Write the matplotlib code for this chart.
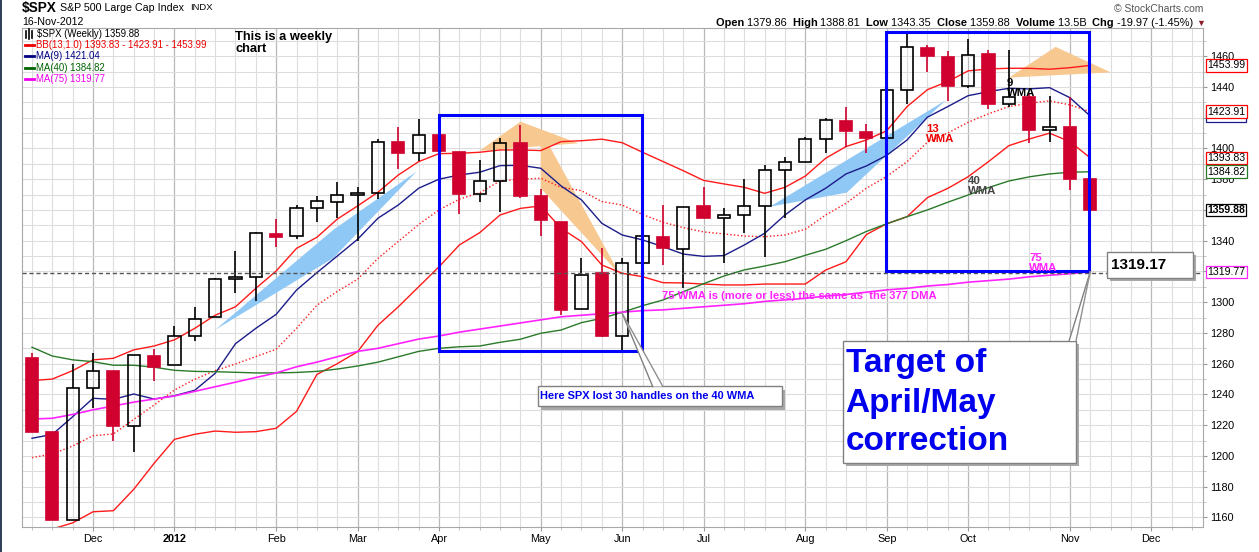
import numpy as np
import pandas as pd
import matplotlib
matplotlib.use("Agg")
import matplotlib.pyplot as plt
from matplotlib.patches import Rectangle, Polygon
from matplotlib.lines import Line2D
from matplotlib.transforms import blended_transform_factory

# weekly bars, first bar = week of 14-Nov-2011
first_week = "2011-11-14"

opens = [1263.85, 1215.62, 1158.67, 1244.33, 1255.05, 1219.74, 1265.02, 1258.86, 1277.83, 1290.22,
         1315.29, 1316.16, 1344.32, 1343.06, 1361.22, 1365.20, 1369.59, 1371.09, 1404.17, 1397.11,
         1408.47, 1397.45, 1370.27, 1378.53, 1403.26, 1368.79, 1351.93, 1295.73, 1318.90, 1278.29,
         1325.72, 1342.42, 1334.90, 1362.33, 1354.66, 1356.50, 1362.34, 1385.94, 1391.04, 1405.87,
         1417.93, 1410.44, 1406.54, 1437.92, 1465.42, 1459.76, 1440.90, 1461.40, 1428.75, 1433.21,
         1411.94, 1414.02, 1379.86]
highs = [1266.98, 1215.62, 1260.00, 1267.06, 1255.31, 1265.42, 1269.37, 1284.62, 1296.82, 1315.49,
         1333.47, 1345.34, 1354.32, 1363.40, 1368.92, 1378.04, 1374.76, 1405.88, 1414.00, 1419.15,
         1422.38, 1397.45, 1392.76, 1406.64, 1415.32, 1373.91, 1351.93, 1328.49, 1334.93, 1329.05,
         1343.32, 1363.46, 1362.17, 1374.81, 1361.54, 1380.39, 1389.19, 1394.16, 1407.14, 1420.04,
         1426.68, 1416.00, 1437.92, 1474.51, 1467.07, 1463.24, 1470.96, 1464.02, 1464.02, 1435.46,
         1434.00, 1433.38, 1388.81]
lows = [1215.42, 1158.66, 1158.67, 1231.47, 1209.47, 1202.37, 1248.64, 1258.86, 1274.55, 1290.22,
        1306.06, 1300.49, 1335.92, 1340.80, 1352.28, 1354.92, 1340.03, 1367.00, 1386.87, 1391.56,
        1397.83, 1357.38, 1365.38, 1358.79, 1367.96, 1343.13, 1291.98, 1295.73, 1277.25, 1266.74,
        1306.62, 1324.41, 1309.27, 1354.58, 1325.41, 1345.07, 1329.24, 1354.65, 1391.04, 1397.32,
        1401.00, 1397.01, 1396.56, 1429.13, 1449.98, 1430.53, 1439.01, 1425.53, 1426.69, 1403.28,
        1404.00, 1373.03, 1343.35]
closes = [1215.65, 1158.67, 1244.28, 1255.19, 1219.66, 1265.33, 1257.60, 1277.81, 1289.09, 1315.38,
          1316.33, 1344.90, 1342.64, 1361.23, 1365.74, 1369.63, 1370.87, 1404.17, 1397.11, 1408.47,
          1398.08, 1370.26, 1378.53, 1403.36, 1369.10, 1353.39, 1295.22, 1317.82, 1278.04, 1325.66,
          1342.84, 1335.02, 1362.16, 1354.68, 1356.78, 1362.66, 1385.97, 1390.99, 1405.87, 1418.16,
          1411.13, 1406.58, 1437.92, 1465.77, 1460.15, 1440.67, 1460.93, 1428.59, 1433.19, 1411.94,
          1414.20, 1379.85, 1359.88]

bb_upper = [1249.0, 1250.0, 1255.5, 1262.5, 1263.5, 1269.0, 1271.5, 1275.5, 1283.0, 1291.5,
            1297.0, 1309.0, 1320.3, 1335.0, 1342.2, 1354.0, 1362.6, 1371.5, 1382.7, 1391.4,
            1396.6, 1396.8, 1397.5, 1399.0, 1399.0, 1398.6, 1404.4, 1405.0, 1406.0, 1403.7,
            1397.5, 1391.5, 1385.5, 1379.2, 1376.9, 1374.7, 1370.8, 1374.7, 1382.0, 1393.6,
            1401.2, 1405.5, 1411.5, 1427.2, 1438.2, 1443.5, 1450.4, 1451.7, 1452.1, 1452.1,
            1451.5, 1452.5, 1453.99]
bb_mid = [1198.9, 1201.3, 1206.5, 1213.2, 1214.3, 1223.8, 1233.1, 1242.9, 1249.9, 1255.5,
          1259.8, 1264.6, 1269.4, 1283.0, 1298.0, 1307.0, 1314.9, 1328.5, 1339.5, 1350.5,
          1360.0, 1367.0, 1371.2, 1378.8, 1379.9, 1380.6, 1374.7, 1372.5, 1365.4, 1363.2,
          1357.0, 1352.0, 1348.5, 1345.7, 1344.4, 1343.0, 1342.6, 1343.7, 1347.4, 1356.7,
          1364.3, 1374.1, 1381.8, 1391.4, 1404.0, 1410.0, 1417.0, 1422.5, 1427.2, 1429.4,
          1430.9, 1428.3, 1423.91]
bb_lower = [1149.0, 1152.5, 1156.5, 1163.7, 1164.4, 1178.3, 1195.2, 1210.8, 1214.1, 1216.2,
            1215.4, 1215.8, 1218.0, 1229.0, 1253.0, 1260.0, 1267.8, 1285.0, 1297.0, 1310.0,
            1323.0, 1337.2, 1345.2, 1356.7, 1361.0, 1362.6, 1348.0, 1339.4, 1324.2, 1318.8,
            1316.6, 1312.7, 1312.5, 1311.8, 1311.2, 1311.2, 1311.8, 1311.8, 1311.8, 1320.9,
            1326.3, 1344.0, 1351.0, 1355.6, 1368.0, 1374.0, 1381.6, 1391.4, 1401.8, 1406.1,
            1409.9, 1404.4, 1393.83]
ma9 = [1211.5, 1214.0, 1225.5, 1237.5, 1236.8, 1240.3, 1237.0, 1239.2, 1242.7, 1253.7,
       1273.0, 1283.0, 1292.1, 1307.9, 1319.2, 1330.0, 1340.9, 1354.6, 1363.2, 1374.1,
       1380.0, 1382.7, 1384.5, 1388.8, 1389.0, 1387.1, 1375.6, 1366.5, 1351.3, 1343.7,
       1340.5, 1336.1, 1331.3, 1329.8, 1330.3, 1337.2, 1344.8, 1356.7, 1366.5, 1374.1,
       1383.4, 1388.6, 1395.5, 1405.5, 1420.3, 1427.2, 1434.3, 1436.9, 1439.1, 1438.7,
       1439.5, 1433.0, 1421.04]
ma40 = [1270.7, 1265.0, 1262.5, 1261.3, 1259.0, 1259.0, 1257.7, 1255.7, 1255.0, 1254.8,
        1254.4, 1254.0, 1254.0, 1254.3, 1255.0, 1256.5, 1258.5, 1261.0, 1264.5, 1268.0,
        1270.0, 1271.0, 1271.5, 1273.9, 1275.9, 1279.8, 1281.9, 1286.7, 1289.5, 1293.4,
        1297.7, 1301.4, 1306.8, 1312.0, 1317.0, 1321.0, 1323.5, 1326.3, 1330.5, 1334.4,
        1340.0, 1346.0, 1351.0, 1355.6, 1360.0, 1365.0, 1369.7, 1374.5, 1378.8, 1381.5,
        1383.4, 1384.5, 1384.82]
ma75 = [1224.0, 1224.5, 1227.0, 1230.0, 1232.5, 1235.0, 1237.0, 1239.0, 1242.0, 1245.0,
        1248.0, 1251.0, 1254.0, 1258.0, 1261.0, 1264.5, 1268.0, 1270.0, 1273.0, 1276.0,
        1278.0, 1280.5, 1282.5, 1284.5, 1286.5, 1288.5, 1290.5, 1291.5, 1292.5, 1293.5,
        1294.5, 1295.0, 1296.0, 1297.0, 1298.0, 1299.0, 1300.5, 1301.5, 1302.5, 1304.0,
        1305.0, 1306.5, 1308.0, 1309.0, 1310.5, 1311.5, 1313.0, 1314.0, 1315.0, 1316.5,
        1317.5, 1318.5, 1319.77]

target_level = 1319.17

W, H = 1259, 552
RED_CANDLE = "#d0002f"
NAVY = "#1c1c8a"
GREEN = "#2a7a2a"
MAGENTA = "#ff22ff"
BBRED = "#ff1a1a"


def runs(fig, x, y, parts, right=False):
    # draw a row of text pieces next to each other (pixel coords)
    r = fig.canvas.get_renderer()
    items = []
    for txt, kw in parts:
        t = fig.text(0, 1 - y / H, txt, va="center", ha="left", **kw)
        items.append((t, t.get_window_extent(r).width))
    if right:
        x = x - sum(w for _, w in items)
    for t, w in items:
        t.set_x(x / W)
        x += w


def shadow_box(ax, x0, y0, w, h, z=5):
    ax.add_patch(Rectangle((x0 + 0.15, y0 - 2.0), w, h, fc="#a8a8a8", ec="none", zorder=z))
    ax.add_patch(Rectangle((x0, y0), w, h, fc="white", ec="#808080", lw=1, zorder=z + 0.1))


def pointer(ax, tip, b1, b2, z=5.2):
    ax.add_patch(Polygon([tip, b1, b2], closed=True, fc="white", ec="none", zorder=z))
    ax.plot([tip[0], b1[0]], [tip[1], b1[1]], color="#808080", lw=1, zorder=z + 0.1)
    ax.plot([tip[0], b2[0]], [tip[1], b2[1]], color="#909090", lw=1, zorder=z + 0.1)


def main():
    plt.rcParams["font.family"] = ["Liberation Sans", "DejaVu Sans"]
    fig = plt.figure(figsize=(W / 100, H / 100), dpi=100, facecolor="white")
    ax = fig.add_axes([22 / W, 1 - 527 / H, 1181 / W, 499 / H])
    x = np.arange(len(closes))

    # last value tags (also used to blank the price labels they cover)
    tags = [(ma9[-1], NAVY, "normal"), (bb_mid[-1], "#ff0000", "normal"),
            (bb_upper[-1], "#ff0000", "normal"), (bb_lower[-1], "#ff0000", "normal"),
            (ma40[-1], GREEN, "normal"), (closes[-1], "black", "bold"),
            (ma75[-1], MAGENTA, "normal")]

    # x axis: one slot per week, month labels at first bar of the month
    axis_weeks = pd.date_range(first_week, periods=58, freq="W-MON")
    month_pos = [i for i in range(1, len(axis_weeks)) if axis_weeks[i].month != axis_weeks[i - 1].month]
    month_lab = ["2012" if axis_weeks[i].month == 1 else axis_weeks[i].strftime("%b") for i in month_pos]

    ax.set_xlim(-0.49, 57.54)
    ax.set_ylim(1153.8, 1478.3)
    ax.set_xticks(month_pos)
    ax.set_xticklabels(month_lab)
    for lab in ax.get_xticklabels():
        if lab.get_text() == "2012":
            lab.set_fontweight("bold")
    ax.set_xticks(np.arange(0, 58), minor=True)
    yt = np.arange(1160, 1461, 20)
    ax.set_yticks(yt)
    # price labels hidden under a value tag are left blank
    ax.set_yticklabels(["" if min(abs(v - t[0]) for t in tags) < 3 else str(v) for v in yt])
    ax.set_yticks(np.arange(1160, 1480, 10), minor=True)
    ax.yaxis.tick_right()
    ax.tick_params(axis="both", which="major", labelsize=7.8, length=3, color="#999999", pad=2)
    ax.tick_params(axis="both", which="minor", length=2, color="#bbbbbb")
    ax.grid(which="minor", color="#dddddd", lw=0.8)
    ax.grid(which="major", axis="y", color="#dddddd", lw=0.8)
    ax.grid(which="major", axis="x", color="#b8b8b8", lw=0.9)
    ax.set_axisbelow(True)
    for s in ax.spines.values():
        s.set_color("#a8a8a8")

    # hand drawn shaded wedges
    blue_wedges = [[(9.0, 1282.0), (14.8, 1347.0), (18.9, 1385.0), (14.8, 1328.6)],
                   [(36.26, 1362.1), (44.9, 1431.3), (40.03, 1371.2)]]
    peach_wedges = [[(22.0, 1398.5), (24.0, 1417.4), (26.85, 1403.3)],
                    [(25.0, 1411.8), (28.9, 1317.7), (25.0, 1374.0)],
                    [(48.0, 1446.0), (50.3, 1466.0), (53.0, 1449.5)]]
    for pts in blue_wedges:
        ax.add_patch(Polygon(pts, closed=True, fc="#8fc7f5", ec="none", zorder=1))
    for pts in peach_wedges:
        ax.add_patch(Polygon(pts, closed=True, fc="#f8c891", ec="none", zorder=1))

    # indicators
    ax.plot(x, bb_upper, color=BBRED, lw=1, zorder=2)
    ax.plot(x, bb_lower, color=BBRED, lw=1, zorder=2)
    ax.plot(x, bb_mid, color=BBRED, lw=1, ls=(0, (1, 1.6)), zorder=2)
    ax.plot(x, ma9, color=NAVY, lw=1, zorder=2)
    ax.plot(x, ma40, color=GREEN, lw=1, zorder=2)
    ax.plot(x, ma75, color=MAGENTA, lw=1.2, zorder=2)

    # candles
    for i in x:
        o, h, l, c = opens[i], highs[i], lows[i], closes[i]
        up = c >= o
        col = "black" if up else RED_CANDLE
        top, bot = max(o, c), min(o, c)
        ax.plot([i, i], [top, h], color=col, lw=1.2, zorder=3, solid_capstyle="butt")
        ax.plot([i, i], [l, bot], color=col, lw=1.2, zorder=3, solid_capstyle="butt")
        ax.add_patch(Rectangle((i - 0.3, bot), 0.6, max(top - bot, 0.7),
                               fc="none" if up else col, ec=col, lw=1.2, zorder=3.1))

    ax.axhline(target_level, color="#555555", lw=1, ls=(0, (3, 2)), zorder=3.5)

    # blue boxes
    ax.add_patch(Rectangle((20.0, 1268.0), 9.96, 153.7, fill=False, ec="#0000ff", lw=2.2, zorder=4))
    ax.add_patch(Rectangle((41.97, 1320.3), 9.98, 155.2, fill=False, ec="#0000ff", lw=2.2, zorder=4))

    # callouts
    pointer(ax, (29.0, 1292.8), (30.5, 1245.2), (31.0, 1245.2))
    shadow_box(ax, 24.86, 1232.2, 11.99, 13.0)
    ax.text(24.98, 1238.7, "Here SPX lost 30 handles on the 40 WMA", color="#0000ee",
            fontsize=7.9, fontweight="bold", va="center", ha="left", zorder=6)

    pointer(ax, (52.0, 1319.8), (50.96, 1274.8), (51.3, 1274.8))
    shadow_box(ax, 39.85, 1195.4, 11.46, 79.4)
    for txt, yv in zip(["Target of", "April/May", "correction"], [1260.3, 1234.3, 1209.3]):
        ax.text(39.98, yv, txt, color="#0000ee", fontsize=24, fontweight="bold",
                va="center", ha="left", zorder=6)

    shadow_box(ax, 52.82, 1315.5, 4.23, 17.3)
    ax.text(53.0, 1324.2, "%.2f" % target_level, fontsize=11, fontweight="bold",
            va="center", ha="left", zorder=6)

    # notes
    ax.text(10.0, 1476.5, "This is a weekly\nchart", fontsize=9.3, fontweight="bold",
            va="top", ha="left", linespacing=1.05, zorder=6)
    ax.text(47.9, 1446.0, "9\nWMA", fontsize=8.2, fontweight="bold", color="black",
            va="top", ha="left", linespacing=1.05, zorder=6)
    ax.text(43.95, 1416.0, "13\nWMA", fontsize=8.2, fontweight="bold", color="#ee0000",
            va="top", ha="left", linespacing=1.05, zorder=6)
    ax.text(46.0, 1382.0, "40\nWMA", fontsize=8.2, fontweight="bold", color="#444444",
            va="top", ha="left", linespacing=1.05, zorder=6)
    ax.text(49.0, 1332.0, "75\nWMA", fontsize=8.2, fontweight="bold", color=MAGENTA,
            va="top", ha="left", linespacing=1.05, zorder=6)
    ax.text(30.94, 1304.0, "75 WMA is (more or less) the same as  the 377 DMA", fontsize=8.1,
            fontweight="bold", color=MAGENTA, va="center", ha="left", zorder=6)

    # last value tags on the price axis
    trans = blended_transform_factory(ax.transAxes, ax.transData)
    for v, col, wt in tags:
        ax.text(1.0035, v, "%.2f" % v, transform=trans, fontsize=7.6, fontweight=wt,
                va="center", ha="left", clip_on=False, zorder=7,
                bbox=dict(boxstyle="square,pad=0.12", fc="white", ec=col, lw=0.9))

    # legend inside the chart
    leg = [("$SPX (Weekly) %.2f" % closes[-1], "black"),
           ("BB(13,1.0) %.2f - %.2f - %.2f" % (bb_lower[-1], bb_mid[-1], bb_upper[-1]), "#ee0000"),
           ("MA(9) %.2f" % ma9[-1], "#000080"),
           ("MA(40) %.2f" % ma40[-1], "#006400"),
           ("MA(75) %.2f" % ma75[-1], "#ee00ee")]
    for k, ((txt, col), yp) in enumerate(zip(leg, [34.3, 45.0, 56.0, 67.7, 79.0])):
        fy = 1 - yp / H
        if k == 0:
            for xx, hh in [(26, 3.5), (29, 5), (32, 3.5)]:
                fig.add_artist(Line2D([xx / W, xx / W], [fy - hh / H, fy + hh / H], color="black", lw=1.2))
            fig.text(37 / W, fy, txt, fontsize=6.9, color=col, va="center", ha="left")
        else:
            fig.add_artist(Line2D([25 / W, 34 / W], [fy, fy], color=col, lw=2))
            fig.text(35.5 / W, fy, txt, fontsize=6.9, color=col, va="center", ha="left")

    # header
    runs(fig, 22, 8, [("$SPX", dict(fontsize=9.8, fontweight="bold")),
                      (" S&P 500 Large Cap Index  ", dict(fontsize=7.7)),
                      ("INDX", dict(fontsize=6.8))])
    fig.text(22 / W, 1 - 22 / H, "16-Nov-2012", fontsize=7.7, va="center", ha="left")
    fig.text(1203 / W, 1 - 9 / H, "\u00a9 StockCharts.com", fontsize=7.5, color="#555555",
             va="center", ha="right")
    b = dict(fontsize=7.9, fontweight="bold")
    n = dict(fontsize=7.9)
    runs(fig, 1205, 23, [("Open ", b), ("1379.86  ", n), ("High ", b), ("1388.81  ", n),
                         ("Low ", b), ("1343.35  ", n), ("Close ", b), ("1359.88  ", n),
                         ("Volume ", b), ("13.5B  ", n), ("Chg ", b), ("-19.97 (-1.45%) ", n),
                         ("\u25bc", dict(fontsize=6.5, color="#8b1a2b"))], right=True)

    # dark strip on the left edge
    fig.add_artist(Rectangle((0, 0), 2 / W, 1, transform=fig.transFigure, fc="#33405a", ec="none"))

    fig.savefig("out.png", dpi=100, facecolor="white")


if __name__ == "__main__":
    main()
